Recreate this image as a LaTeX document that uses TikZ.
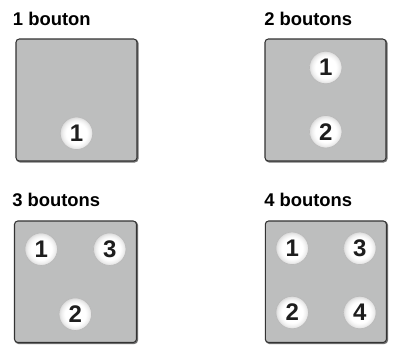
\documentclass[tikz,border=0pt]{standalone}
\usepackage{fontspec}
\setmainfont{Liberation Sans}
\pgfdeclareradialshading{btnshade}{\pgfpoint{0bp}{0bp}}{color(0bp)=(white); color(16bp)=(white); color(21bp)=(black!6); color(24bp)=(black!12); color(25bp)=(black!15); color(50bp)=(black!15)}
\definecolor{boxfill}{HTML}{BDBEBE}
\definecolor{numcol}{HTML}{1E1E1E}
\begin{document}
\begin{tikzpicture}[x=0.75pt,y=-0.75pt,
  title/.style={anchor=base west,inner sep=0pt,font=\fontsize{13.8pt}{16pt}\selectfont\bfseries,text=black},
  panel/.style={fill=boxfill,draw=black!80,line width=0.8pt,rounded corners=2.5pt},
  shadowline/.style={draw=black!55,line width=1.2pt,rounded corners=2.5pt},
  btn/.style={circle,minimum size=24.4pt,inner sep=0pt,shading=btnshade,draw=black!27,line width=0.5pt,text=numcol,font=\fontsize{18pt}{20pt}\selectfont\bfseries}]
\useasboundingbox (0,0) rectangle (398,350);
% titles
\node[title] (t1) at (12.7,25) {1 bouton};
\node[title] (t2) at (264,25) {2 boutons};
\node[title] (t3) at (12,206.7) {3 boutons};
\node[title] (t4) at (264,206.7) {4 boutons};
% panels
\foreach \name/\xa/\ya/\xb/\yb in {p1/16/39/137/161, p2/265/39/386/161, p3/14.5/221/136.5/342.5, p4/265.3/221/386.5/342.5}{
  \draw[shadowline] (\xa+1,\ya+1) rectangle (\xb+0.8,\yb+0.8);
  \draw[panel] (\xa,\ya) rectangle (\xb,\yb);
}
% buttons
\node[btn] (b11) at (76.5,133.3) {1};
\node[btn] (b21) at (325.7,67.5) {1};
\node[btn] (b22) at (325.7,131.7) {2};
\node[btn] (b31) at (41.2,249.2) {1};
\node[btn] (b33) at (109.7,249.2) {3};
\node[btn] (b32) at (75.3,314.2) {2};
\node[btn] (b41) at (292.2,248.3) {1};
\node[btn] (b43) at (359.8,248.3) {3};
\node[btn] (b42) at (292.2,312.5) {2};
\node[btn] (b44) at (359.8,312.5) {4};
\end{tikzpicture}
\end{document}
